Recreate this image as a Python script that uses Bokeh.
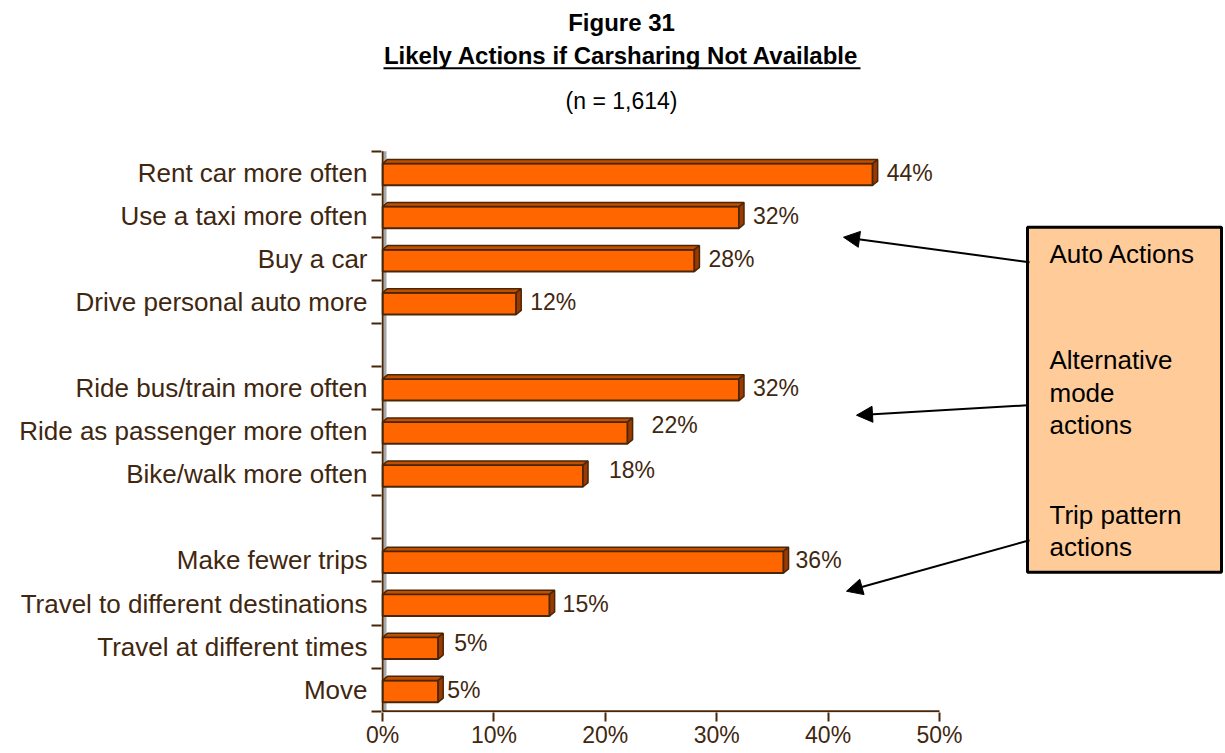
from bokeh.plotting import figure
from bokeh.models import (Range1d, FixedTicker, ColumnDataSource, Label, Arrow,
                          NormalHead)
from bokeh.core.properties import value
from bokeh.embed import file_html
from bokeh.resources import INLINE

# ---------------- data ----------------
categories = ["Rent car more often", "Use a taxi more often", "Buy a car",
              "Drive personal auto more",
              "Ride bus/train more often", "Ride as passenger more often",
              "Bike/walk more often",
              "Make fewer trips", "Travel to different destinations",
              "Travel at different times", "Move"]
values = [44, 32, 28, 12, 32, 22, 18, 36, 15, 5, 5]
group_sizes = [4, 3, 4]
group_names = ["Auto Actions", "Alternative\nmode\nactions", "Trip pattern\nactions"]
x_ticks = [0, 10, 20, 30, 40, 50]
x_tick_labels = ["0%", "10%", "20%", "30%", "40%", "50%"]
title_lines = ["Figure 31", "Likely Actions if Carsharing Not Available", "(n = 1,614)"]

# label nudges (pixels) - style only
label_nudge_x = [9, 9, 9, 9, 9, 19, 21, 7, 8, 11, 4]
label_nudge_y = [0, 0, 0, 0, 0, -6, -4, 0, 0, -4, 0]

# ---------------- layout of rows ----------------
n_rows = sum(group_sizes) + len(group_sizes) - 1
centers = []
r = 0
for gi, gs in enumerate(group_sizes):
    for _ in range(gs):
        centers.append(n_rows - r - 0.5)
        r += 1
    r += 1  # blank row between groups

TXT = "#3F2710"
AX = "#4A2608"
FONT = value("Liberation Sans")

PX_X = 557 / 50.0      # pixels per percent
PX_Y = 560 / n_rows    # pixels per row
X0, Y0 = -0.09, -0.03
FW, FH = 844, 712
x_end = X0 + FW / PX_X
y_end = Y0 + FH / PX_Y

p = figure(frame_width=FW, frame_height=FH, output_backend="svg",
           toolbar_location=None, title_location=None,
           x_range=Range1d(X0, x_end), y_range=Range1d(Y0, y_end),
           min_border_left=381, min_border_right=0, min_border_top=0,
           min_border_bottom=41)
p.outline_line_color = None
p.xgrid.visible = False
p.ygrid.visible = False

# ---------------- bars (3D look) ----------------
dx = 0.45   # depth in x (data %)
dy = 0.095  # depth in y (rows)
up, down = 0.214, 0.29
tops = [c + up for c in centers]
bots = [c - down for c in centers]

# gray back wall
p.quad(left=[0], right=[0.36], bottom=[0], top=[n_rows],
       fill_color="#A8A8A8", line_color=None)

src = ColumnDataSource(dict(v=values, top=tops, bottom=bots))
p.quad(left=0, right="v", top="top", bottom="bottom", source=src,
       fill_color="#FF6600", line_color=AX, line_width=2)

top_xs = [[0, v, v + dx, dx] for v in values]
top_ys = [[t, t, t + dy, t + dy] for t in tops]
p.patches(top_xs, top_ys, fill_color="#C24E00", line_color=AX, line_width=1.5)
side_xs = [[v, v + dx, v + dx, v] for v in values]
side_ys = [[b, b + dy, t + dy, t] for b, t in zip(bots, tops)]
p.patches(side_xs, side_ys, fill_color="#9A3A00", line_color=AX, line_width=1.5)

# axis lines (drawn only over the data extent)
p.segment(x0=[0, 0], y0=[0, 0], x1=[max(x_ticks), 0], y1=[0, n_rows],
          line_color=AX, line_width=2)

# value labels
lab = ColumnDataSource(dict(x=[v + dx for v in values], y=centers,
                            t=[f"{v}%" for v in values],
                            ox=label_nudge_x, oy=label_nudge_y))
p.text(x="x", y="y", text="t", x_offset="ox", y_offset="oy", source=lab,
       text_font=FONT, text_font_size="23px", text_color=TXT,
       text_baseline="middle", text_align="left")

# ---------------- axes ----------------
p.xaxis.ticker = FixedTicker(ticks=x_ticks, minor_ticks=[])
p.xaxis.major_label_overrides = {t: l for t, l in zip(x_ticks, x_tick_labels)}
p.xaxis.major_tick_in = 0
p.xaxis.major_tick_out = 9
p.xaxis.major_label_standoff = 0
for ax in (p.xaxis, p.yaxis):
    ax.axis_line_color = None
    ax.major_tick_line_color = AX
    ax.major_tick_line_width = 2
    ax.minor_tick_line_color = AX
    ax.minor_tick_line_width = 2
    ax.major_label_text_color = TXT
    ax.major_label_text_font = "Liberation Sans"
p.xaxis.major_label_text_font_size = "23px"

p.yaxis.ticker = FixedTicker(ticks=centers, minor_ticks=list(range(n_rows + 1)))
p.yaxis.major_label_overrides = {c: n for c, n in zip(centers, categories)}
p.yaxis.major_tick_in = 0
p.yaxis.major_tick_out = 0
p.yaxis.minor_tick_in = 0
p.yaxis.minor_tick_out = 10
p.yaxis.major_label_standoff = 4
p.yaxis.major_label_text_font_size = "26px"

# ---------------- titles ----------------
tx = (621 - 382) / PX_X
ty = [(711 - py) / PX_Y for py in (22, 55, 101)]
p.text(x=[tx, tx], y=ty[:2], text=title_lines[:2], text_font=FONT,
       text_font_style="bold", text_font_size="24px", text_align="center",
       text_baseline="middle", text_color="black")
p.text(x=[tx], y=[ty[2]], text=title_lines[2:], text_font=FONT,
       text_font_size="23px", text_align="center", text_baseline="middle",
       text_color="black")
uy = (711 - 68) / PX_Y
p.segment(x0=[(383 - 382) / PX_X], y0=[uy], x1=[(860 - 382) / PX_X], y1=[uy],
          line_color="black", line_width=2)

# ---------------- callout box ----------------
def dxp(px):
    return (px - 382) / PX_X


def dyp(py):
    return (711 - py) / PX_Y


p.quad(left=[dxp(1027)], right=[dxp(1221)], bottom=[dyp(572)], top=[dyp(227)],
       fill_color="#FFCC99", line_color="black", line_width=3)
box_text_py = [254, 392.5, 531]
for gname, py in zip(group_names, box_text_py):
    p.add_layout(Label(x=dxp(1049), y=dyp(py), text=gname, text_font="Liberation Sans",
                       text_font_size="26px", text_align="left",
                       text_line_height=1.08,
                       text_baseline="middle", text_color="black"))

arrows_px = [((1029, 262), (843, 237)),
             ((1027, 405), (856, 415)),
             ((1029, 540), (846, 591))]
for (xs, ys), (xe, ye) in arrows_px:
    p.add_layout(Arrow(x_start=dxp(xs), y_start=dyp(ys), x_end=dxp(xe), y_end=dyp(ye),
                       line_color="black", line_width=2,
                       end=NormalHead(size=16, fill_color="black",
                                      line_color="black")))

open("out.html", "w").write(file_html(p, INLINE))
